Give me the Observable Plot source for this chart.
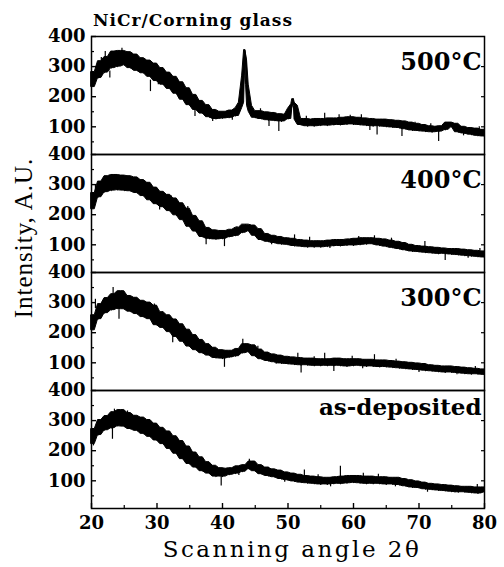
<!DOCTYPE html>
<html>
<head>
<meta charset="utf-8">
<style>
  html, body { margin: 0; padding: 0; background: #fff; }
  #chart { position: relative; width: 504px; height: 567px; }
</style>
<script src="https://cdn.jsdelivr.net/npm/d3@7"></script>
<script src="https://cdn.jsdelivr.net/npm/@observablehq/plot@0.6"></script>
</head>
<body>
<div id="chart"></div>
<script>
// ---------- data ----------
const panels = ["500°C", "400°C", "300°C", "as-deposited"];
const titleText = "NiCr/Corning glass";
const xLabel = "Scanning angle 2θ";
const yLabel = "Intensity, A.U.";
const xTicks = [20, 30, 40, 50, 60, 70, 80];
const xMinorTicks = [25, 35, 45, 55, 65, 75];
const yTicks = [100, 200, 300, 400];
const yMinorTicks = [50, 150, 250, 350];

// sample angles (2θ), every 0.5°
const angles = d3.range(20, 80.001, 0.5);

const i500 = [232,282,262,318,280,332,295,350,300,352,305,348,295,340,286,328,278,320,266,310,
  252,295,240,280,226,266,210,248,190,228,172,206,156,186,144,172,132,156,126,150,
  128,150,130,154,136,162,180,340,170,150,130,152,126,148,122,146,120,142,118,140,
  126,160,170,124,106,126,102,124,102,126,104,126,104,128,106,128,106,130,108,132,
  108,130,106,128,104,126,102,124,102,124,100,122,98,120,96,118,92,114,88,110,
  86,106,84,102,82,100,84,102,90,114,100,110,82,100,78,96,74,94,70,90,68];
// extra points on the sharp peaks of the 500°C pattern: [angle, intensity]
const peaks500 = [[43.3,270],[43.4,355],[43.6,320],[43.75,240],[50.65,175],[50.8,192],[50.9,180]];

const i400 = [218,272,258,310,275,328,280,332,282,330,280,328,278,324,272,315,262,306,248,290,
  235,276,225,266,212,254,198,238,182,220,160,196,144,178,126,156,120,148,118,146,
  120,146,126,150,130,157,140,167,146,164,130,152,116,136,110,130,106,126,102,122,
  100,120,96,116,94,114,92,112,92,112,92,112,94,114,96,116,96,116,98,118,
  98,120,100,122,102,122,102,120,98,118,94,114,90,110,86,106,82,100,78,96,
  76,94,74,92,72,90,70,88,70,86,68,86,66,84,64,82,62,80,60,78,58];

const i300 = [208,258,245,295,265,315,275,328,280,338,278,322,270,316,262,306,252,300,245,290,
  225,268,216,258,202,244,186,228,170,210,154,192,142,176,132,162,124,150,116,142,
  114,140,118,140,122,146,132,162,136,158,122,144,112,134,106,128,102,124,98,120,
  96,118,94,116,92,114,92,114,90,112,90,112,90,112,90,114,90,112,88,112,
  90,112,90,110,88,110,88,108,86,108,86,106,84,104,82,102,80,100,78,98,
  76,96,74,92,72,90,70,88,68,88,68,86,66,84,64,82,62,80,62,78,60];

const iAsDep = [222,272,252,302,268,315,275,328,282,335,280,325,272,316,266,310,256,302,246,290,
  234,276,222,264,206,248,190,232,172,214,156,194,144,178,132,162,124,150,114,142,
  114,140,120,142,124,148,130,152,140,164,132,152,122,144,116,138,112,134,106,128,
  102,124,98,120,94,116,92,114,90,112,88,110,88,110,90,112,90,114,92,116,
  94,116,92,114,90,114,90,112,90,112,88,110,88,110,86,106,82,102,78,98,
  76,94,72,90,70,88,68,86,66,84,64,82,62,80,62,80,60,78,58,78,62];

const series = [i500, i400, i300, iAsDep];

// isolated noise spikes: [angle, from, to]
const spikes500 = [[20.1,250,236],[21.5,300,330],[22.1,310,350],[22.8,285,262],[23.2,320,345],
  [24.1,320,350],[24.65,325,361],[25.9,315,339],[26.6,305,335],[27.7,300,325],[28.6,290,306],
  [29.0,255,217],[30.2,265,240],[31.1,255,273],[32.5,240,265],[33.4,230,205],[35.8,160,134],
  [38.5,140,118],[41.5,140,122],[45.8,135,160],[47.1,130,101],[48.6,128,84],[50.1,128,151],
  [52.8,110,135],[55.6,115,145],[57.8,115,140],[59.5,115,138],[61.2,115,140],[62.5,110,88],
  [63.6,112,73],[67.4,100,68],[69.4,95,115],[71.8,90,110],[73.0,85,51],[76.8,90,70],[79.2,80,100]];
const spikes400 = [[20.6,260,300],[21.8,290,318],[23.5,305,333],[24.8,300,325],[26.2,300,275],
  [28.5,285,305],[30.4,245,216],[32.2,240,262],[34.7,200,227],[36.2,165,140],[37.5,130,100],
  [40.3,128,94],[42.2,140,160],[47.5,120,100],[51.0,108,133],[53.3,105,125],[56.4,105,88],
  [60.8,108,128],[63.2,110,130],[65.8,105,122],[67.5,100,82],[70.9,90,111],[74.0,75,48],
  [77.5,72,55],[79.3,70,88]];
const spikes300 = [[20.6,280,311],[21.9,280,305],[23.3,305,350],[24.2,295,245],[26.8,290,310],
  [28.1,280,255],[29.6,270,295],[30.8,250,270],[32.4,210,167],[35.4,180,160],[40.3,120,85],
  [43.1,150,178],[45.4,135,155],[48.2,115,95],[51.5,102,132],[52.0,100,66],[54.0,100,120],
  [55.6,100,132],[57.0,100,71],[59.8,100,122],[61.4,100,80],[63.2,100,127],[66.5,95,112],
  [70.0,85,68],[75.8,80,60],[78.6,72,88]];
const spikesAsDep = [[20.3,245,216],[22.0,285,312],[23.2,285,238],[23.5,305,338],[25.5,305,332],
  [27.0,290,312],[28.8,275,250],[31.5,240,262],[34.2,190,216],[37.3,150,128],[39.8,125,83],
  [42.5,140,118],[44.1,150,172],[47.0,125,145],[49.5,115,95],[52.5,110,136],[54.6,100,120],
  [56.5,100,80],[58.0,100,148],[61.5,105,125],[63.8,100,122],[66.4,100,80],[71.3,80,62],
  [75.5,78,60],[78.9,70,88]];
const spikeSets = [spikes500, spikes400, spikes300, spikesAsDep];

// ---------- tables ----------
const rows = [];
series.forEach((vals, k) => {
  const pts = vals.map((v, i) => [angles[i], v]);
  if (k === 0) pts.push(...peaks500);
  pts.sort((a, b) => a[0] - b[0]);
  pts.forEach(([a, v]) => rows.push({panel: panels[k], angle: a, intensity: v}));
});
const spikeRows = [];
spikeSets.forEach((set, k) => set.forEach(([a, f, t]) =>
  spikeRows.push({panel: panels[k], angle: a, from: f, to: t})));

const serif = "'DejaVu Serif', 'Liberation Serif', serif";
const frameW = 504 - 91 - 20;

const chart = Plot.plot({
  width: 504,
  height: 567,
  marginLeft: 91,
  marginRight: 20,
  marginTop: 36,
  marginBottom: 59,
  style: {fontFamily: serif, color: "black", background: "white"},
  x: {domain: [20, 80]},
  y: {domain: [8, 400]},
  fy: {domain: panels, padding: 0, axis: null},
  marks: [
    // noise band: local min..max of the recorded intensities
    Plot.areaY(rows, Plot.map(
      {y1: Plot.window({k: 3, reduce: "min"}), y2: Plot.window({k: 3, reduce: "max"})},
      {x: "angle", y1: "intensity", y2: "intensity", fy: "panel", fill: "black", stroke: "black", strokeWidth: 1})),
    Plot.line(rows, {x: "angle", y: "intensity", fy: "panel", stroke: "black", strokeWidth: 1.1}),
    Plot.ruleX(spikeRows, {x: "angle", y1: "from", y2: "to", fy: "panel", stroke: "black", strokeWidth: 1.2}),
    Plot.frame({stroke: "black", strokeWidth: 1.5}),
    // y ticks (inside)
    Plot.tickY(yTicks, {y: d => d, insetRight: frameW - 5, strokeWidth: 1.4}),
    Plot.tickY(yMinorTicks, {y: d => d, insetRight: frameW - 3, strokeWidth: 1.2}),
    Plot.tickY(yTicks.slice(0, 3), {y: d => d, insetLeft: frameW - 3, strokeWidth: 1.2}),
    Plot.axisY({ticks: yTicks, tickSize: 0, tickPadding: 6, fontSize: 18, fontWeight: "bold", label: null}),
    // x ticks (inside, bottom panel)
    Plot.tickX(xTicks, {x: d => d, fy: () => panels[3], insetTop: 118 - 5, strokeWidth: 1.4}),
    Plot.tickX(xMinorTicks, {x: d => d, fy: () => panels[3], insetTop: 118 - 3, strokeWidth: 1.2}),
    Plot.axisX({ticks: xTicks, tickSize: 0, tickPadding: 8, fontSize: 18, fontWeight: "bold", label: null}),
    Plot.text(panels.slice(0, 3), {text: d => d, fy: d => d, frameAnchor: "top-right", lineAnchor: "top",
      dx: -3, dy: 16, fontSize: 24, fontWeight: "bold", fontFamily: serif}),
    Plot.text(panels.slice(3), {text: d => d, fy: d => d, frameAnchor: "top-right", lineAnchor: "top",
      dx: -3, dy: 8, fontSize: 23, fontWeight: "bold", fontFamily: serif})
  ]
});

document.getElementById("chart").appendChild(chart);

const svg = d3.select(chart);
svg.append("text")
  .attr("x", 93).attr("y", 26)
  .attr("text-anchor", "start")
  .attr("font-family", serif)
  .attr("font-size", 17)
  .attr("font-weight", "bold")
  .attr("letter-spacing", "1px")
  .attr("fill", "black")
  .text(titleText);
svg.append("text")
  .attr("x", 292).attr("y", 557)
  .attr("text-anchor", "middle")
  .attr("font-family", serif)
  .attr("font-size", 23)
  .attr("letter-spacing", "2.5px")
  .attr("fill", "black")
  .text(xLabel);
svg.append("text")
  .attr("transform", "translate(32,238) rotate(-90)")
  .attr("text-anchor", "middle")
  .attr("font-family", "'Liberation Serif', serif")
  .attr("font-size", 25)
  .attr("letter-spacing", "1px")
  .attr("fill", "black")
  .text(yLabel);
</script>
</body>
</html>
